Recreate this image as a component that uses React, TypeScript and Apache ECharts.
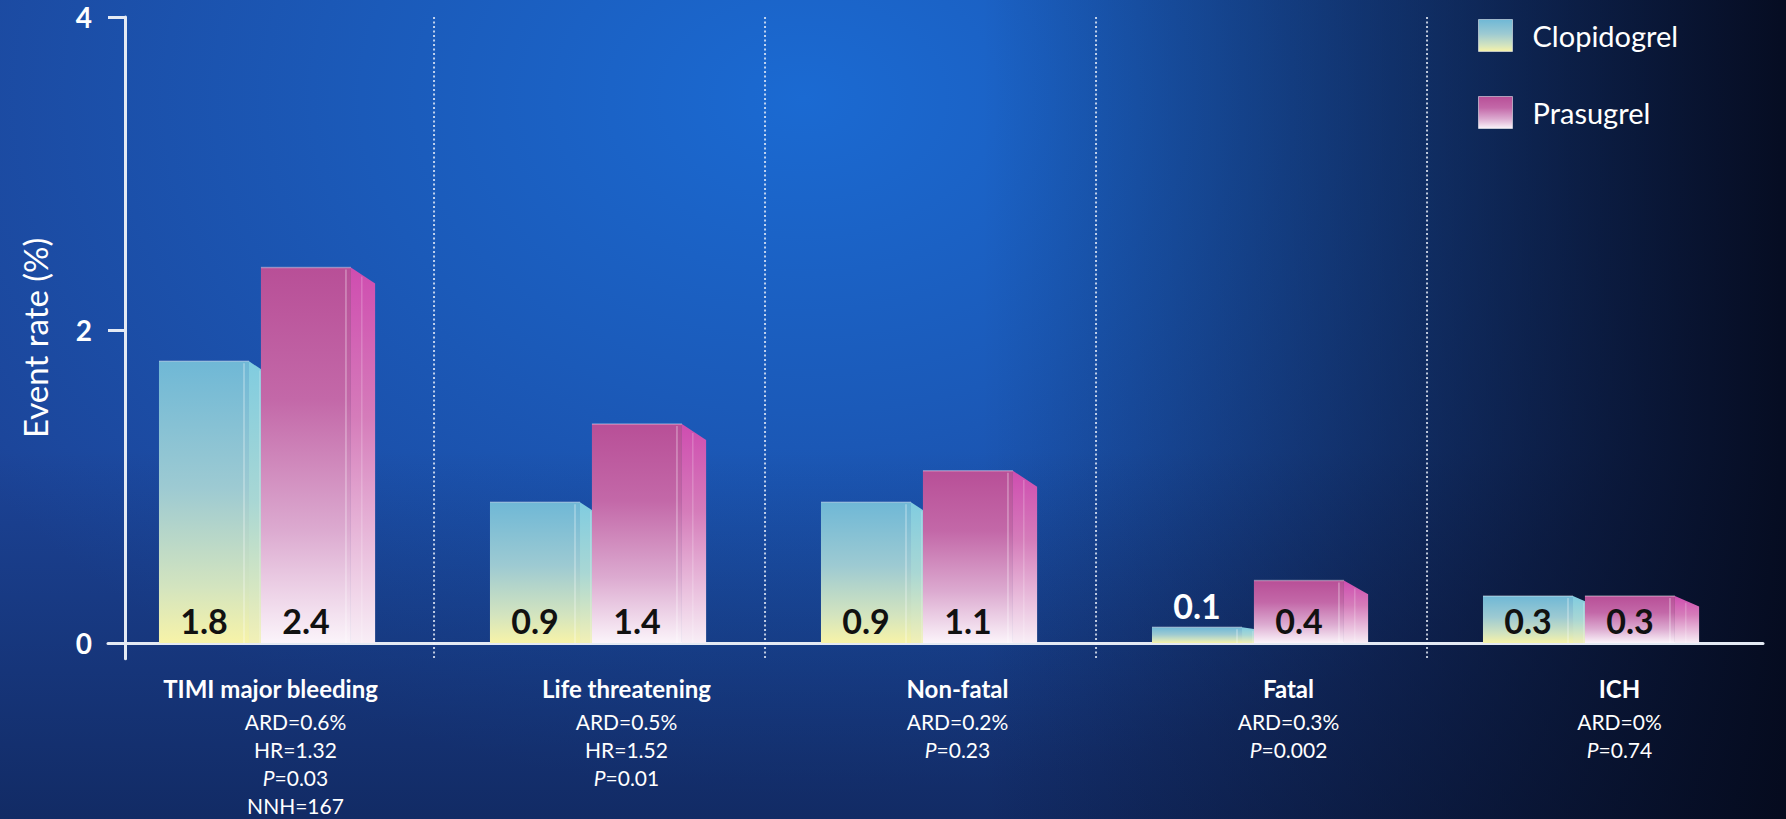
import React, { useEffect, useRef } from 'react';
import * as echarts from 'echarts';

const categories = ['TIMI major bleeding', 'Life threatening', 'Non-fatal', 'Fatal', 'ICH'];
const clopidogrel = [1.8, 0.9, 0.9, 0.1, 0.3];
const prasugrel = [2.4, 1.4, 1.1, 0.4, 0.3];
const statLines = [
  ['ARD=0.6%', 'HR=1.32', 'P=0.03', 'NNH=167'],
  ['ARD=0.5%', 'HR=1.52', 'P=0.01'],
  ['ARD=0.2%', 'P=0.23'],
  ['ARD=0.3%', 'P=0.002'],
  ['ARD=0%', 'P=0.74'],
];
const yTicks = [0, 2, 4];
const seriesNames = ['Clopidogrel', 'Prasugrel'];

const FONT = 'Lato, "Open Sans", sans-serif';

type Stop = [number, string];
const clopFront: Stop[] = [[0, '#6fb8d6'], [0.45, '#9dcad2'], [0.8, '#d3e4bf'], [1, '#f7f3a8']];
const clopSide: Stop[] = [[0, '#80cce0'], [0.5, '#a9d7d4'], [1, '#f2f0b6']];
const prasFront: Stop[] = [[0, '#b84f97'], [0.35, '#c368a8'], [0.7, '#dcaad0'], [1, '#fbf4fa']];
const prasSide: Stop[] = [[0, '#cf4db0'], [0.4, '#d57cba'], [1, '#f8eef6']];

function grad(stops: Stop[]) {
  return new echarts.graphic.LinearGradient(0, 0, 0, 1, stops.map(([o, c]) => ({ offset: o, color: c })));
}

function makeRender(seriesIdx: number) {
  return (params: any, api: any) => {
    const i = api.value(0);
    const v = api.value(1);
    const band = api.size([1, 0])[0];
    const base = api.coord([i, 0]);
    const cx = base[0];
    const y0 = base[1];
    const yTop = api.coord([i, v])[1];
    const h = y0 - yTop;
    const shift = -0.038 * band;
    const fw = 0.272 * band;
    const sw = 0.073 * band;
    const left = seriesIdx === 1 ? cx + shift : cx + shift - 0.308 * band;
    const drop = Math.min(16, h * 0.22);
    const front = seriesIdx === 0 ? clopFront : prasFront;
    const side = seriesIdx === 0 ? clopSide : prasSide;
    const inside = h > 40;
    const labelY = inside ? y0 - 23 : yTop - 22;
    return {
      type: 'group',
      children: [
        {
          type: 'polygon',
          shape: { points: [[left + fw, yTop], [left + fw + sw, yTop + drop], [left + fw + sw, y0], [left + fw, y0]] },
          style: { fill: grad(side) },
        },
        {
          type: 'rect',
          shape: { x: left, y: yTop, width: fw, height: h },
          style: { fill: grad(front) },
        },
        {
          type: 'line',
          shape: { x1: left + fw - 5, y1: yTop + 2, x2: left + fw - 5, y2: y0 },
          style: { stroke: 'rgba(255,255,255,0.35)', lineWidth: 1.5 },
        },
        {
          type: 'line',
          shape: { x1: left + fw + sw * 0.45, y1: yTop + drop * 0.45 + 2, x2: left + fw + sw * 0.45, y2: y0 },
          style: { stroke: 'rgba(255,255,255,0.25)', lineWidth: 1.2 },
        },
        {
          type: 'line',
          shape: { x1: left, y1: yTop, x2: left + fw, y2: yTop },
          style: { stroke: 'rgba(255,255,255,0.35)', lineWidth: 1.5 },
        },
        {
          type: 'text',
          x: left + fw / 2,
          y: labelY,
          style: {
            text: v.toFixed(1),
            fill: inside ? '#111111' : '#ffffff',
            font: `bold 34px ${FONT}`,
            align: 'center',
            verticalAlign: 'middle',
            textAlign: 'center',
            textVerticalAlign: 'middle',
          },
        },
      ],
    };
  };
}

function renderSeparator(params: any, api: any) {
  const i = api.value(0);
  const band = api.size([1, 0])[0];
  const x = api.coord([i, 0])[0] - band / 2 - 0.015 * band;
  const cs = params.coordSys;
  return {
    type: 'line',
    shape: { x1: x, y1: cs.y, x2: x, y2: cs.y + cs.height },
    style: { stroke: 'rgba(235,240,250,0.8)', lineWidth: 2, lineDash: [2, 2.5] },
  };
}

export default function App() {
  const ref = useRef<HTMLDivElement>(null);
  useEffect(() => {
    document.body.style.margin = '0';
    const chart = echarts.init(ref.current!, undefined, { renderer: 'svg' });
    const formatter = (value: string, index: number) => {
      const lines = statLines[index] || [];
      const title = index === 0 ? `{tl|${value}}` : `{t|${value}}`;
      const rest = lines.map((l) => (l.startsWith('P=') ? `{i|P}{s|${l.slice(1)}}` : `{s|${l}}`));
      return [title, ...rest].join('\n');
    };
    chart.setOption({
      animation: false,
      backgroundColor: 'transparent',
      textStyle: { fontFamily: FONT },
      grid: { left: 108, right: 23, top: 17, bottom: 160.35, containLabel: false, outerBoundsMode: 'none' },
      legend: {
        orient: 'vertical',
        left: 1478,
        top: 19,
        padding: 0,
        itemWidth: 34,
        itemHeight: 32,
        itemGap: 44,
        icon: 'rect',
        data: [
          { name: seriesNames[0], itemStyle: { color: grad(clopFront), borderColor: 'rgba(255,255,255,0.5)', borderWidth: 1 } },
          { name: seriesNames[1], itemStyle: { color: grad(prasFront), borderColor: 'rgba(255,255,255,0.5)', borderWidth: 1 } },
        ],
        textStyle: { color: '#ffffff', fontSize: 29, fontFamily: FONT, padding: [0, 0, 0, 15] },
      },
      xAxis: {
        type: 'category',
        data: categories,
        axisLine: {
          onZero: true,
          lineStyle: { color: '#e4eaf4', width: 3 },
        },
        axisTick: { show: false },
        splitLine: { show: false },
        axisLabel: {
          interval: 0,
          margin: 11,
          padding: [0, 0, 0, 44],
          color: '#ffffff',
          formatter,
          rich: {
            t: { fontSize: 24, fontWeight: 'bold', color: '#ffffff', lineHeight: 38, fontFamily: FONT },
            tl: { fontSize: 24, fontWeight: 'bold', color: '#ffffff', lineHeight: 38, fontFamily: FONT, padding: [0, 50, 0, 0] },
            s: { fontSize: 21, color: '#ffffff', lineHeight: 28, fontFamily: FONT },
            i: { fontSize: 21, color: '#ffffff', lineHeight: 28, fontStyle: 'italic', fontFamily: FONT },
          },
        },
      },
      yAxis: {
        type: 'value',
        min: -0.1,
        max: 4,
        offset: -17,
        name: 'Event rate (%)',
        nameLocation: 'middle',
        nameGap: 74,
        nameTextStyle: { color: '#ffffff', fontSize: 33, fontFamily: FONT },
        axisLine: { show: true, lineStyle: { color: '#e4eaf4', width: 3 } },
        axisTick: { show: true, customValues: yTicks, length: 17, lineStyle: { color: '#e4eaf4', width: 3 } },
        axisLabel: { customValues: yTicks, margin: 33, color: '#ffffff', fontWeight: 'bold', fontSize: 28, fontFamily: FONT },
        splitLine: { show: false },
      },
      series: [
        {
          type: 'custom',
          name: 'separators',
          renderItem: renderSeparator,
          data: categories.slice(1).map((c) => [c, 0]),
          encode: { x: 0, y: 1 },
          silent: true,
          z: 1,
        },
        {
          type: 'custom',
          name: seriesNames[0],
          renderItem: makeRender(0),
          data: categories.map((c, i) => [c, clopidogrel[i]]),
          encode: { x: 0, y: 1 },
          itemStyle: { color: grad(clopFront) },
          z: 2,
        },
        {
          type: 'custom',
          name: seriesNames[1],
          renderItem: makeRender(1),
          data: categories.map((c, i) => [c, prasugrel[i]]),
          encode: { x: 0, y: 1 },
          itemStyle: { color: grad(prasFront) },
          z: 3,
        },
      ],
    });
    return () => chart.dispose();
  }, []);
  return (
    <div
      ref={ref}
      style={{
        position: 'absolute',
        left: 0,
        top: 0,
        width: 1786,
        height: 819,
        background:
          'linear-gradient(to right, rgba(4,8,24,0) 0%, rgba(4,8,24,0) 55%, rgba(4,8,24,0.5) 80%, rgba(4,8,24,0.92) 100%),' +
          'linear-gradient(to bottom, rgba(8,18,50,0) 0%, rgba(8,18,50,0) 55%, rgba(8,18,50,0.5) 100%),' +
          'radial-gradient(ellipse 55% 85% at 45% 12%, #1b6ad2 0%, #1b5ab9 45%, #1c4498 100%)',
        backgroundColor: '#1c4498',
      }}
    />
  );
}
